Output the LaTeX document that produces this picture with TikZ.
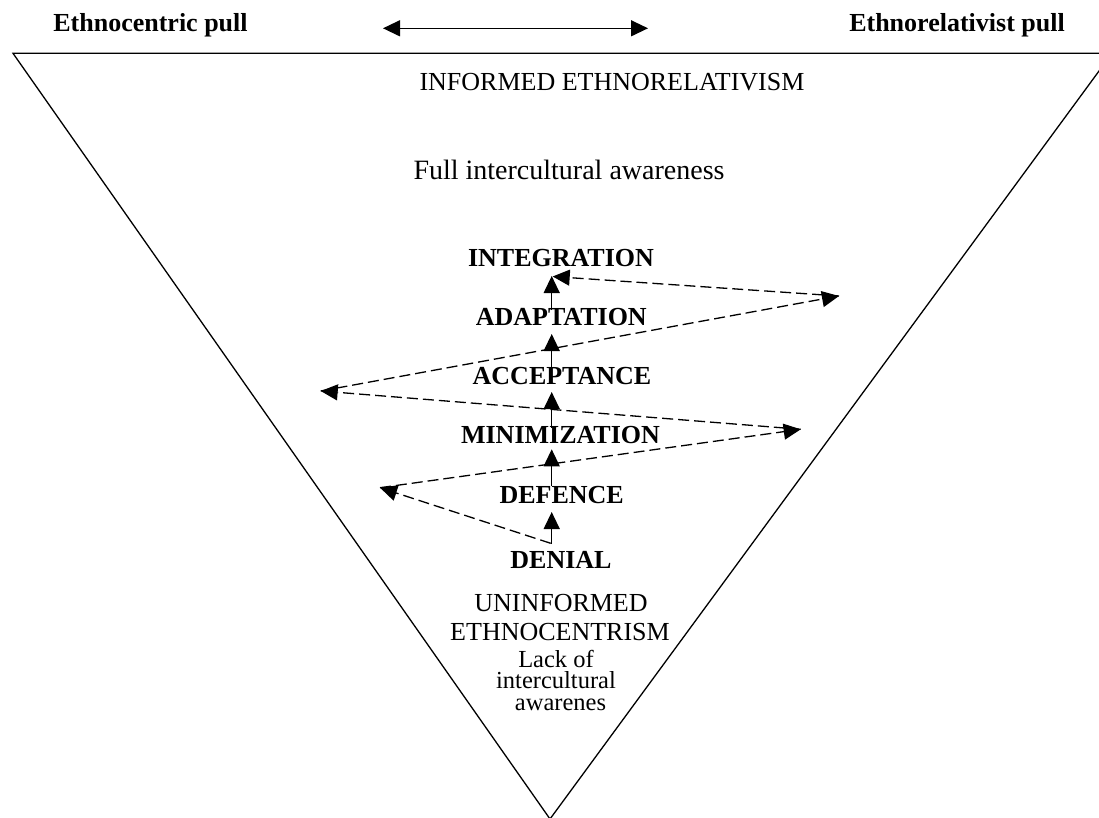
\documentclass[tikz,border=0pt]{standalone}
\usepackage{fontspec}
\setmainfont{Liberation Serif}
\usetikzlibrary{arrows.meta}

\tikzset{
  headtext/.style={font=\fontsize{26}{30}\selectfont\bfseries, anchor=base, inner sep=0pt},
  stagetext/.style={font=\fontsize{26}{30}\selectfont\bfseries, anchor=base, inner sep=0pt},
  plaintext/.style={font=\fontsize{26}{30}\selectfont, anchor=base, inner sep=0pt},
  fulltext/.style={font=\fontsize{28}{30}\selectfont, anchor=base, inner sep=0pt},
  notetext/.style={font=\fontsize{24.5}{21.5}\selectfont, anchor=base, inner sep=0pt,
                   align=center},
  tip/.tip={Triangle[length=17pt,width=16pt]},
  uparrow/.style={-tip, line width=1.3pt},
  swing/.style={-tip, line width=1.3pt, dash pattern=on 11pt off 5pt},
  frame/.style={line width=1.3pt, line join=miter}
}

\begin{document}
\begin{tikzpicture}[x=1pt, y=-1pt]
  \useasboundingbox (0,0) rectangle (1099,818);
  \clip (0,0) rectangle (1099,818);

  % the inverted triangle
  \draw[frame] (13,53.3) -- (1112,53.3) -- (550,819) -- cycle;

  % header
  \node[headtext] (centric) at (150.5,32) {Ethnocentric pull};
  \node[headtext] (relativ) at (957,32) {Ethnorelativist pull};
  \coordinate (pullL) at (383,28.3);
  \coordinate (pullR) at (648,28.3);
  \draw[tip-tip, line width=1.3pt] (pullL) -- (pullR);

  % upper texts
  \node[plaintext] (informed) at (612,90.7) {INFORMED ETHNORELATIVISM};
  \node[fulltext] (full) at (569,180) {Full intercultural awareness};

  % stages
  \node[stagetext] (integration) at (561,266.7) {INTEGRATION};
  \node[stagetext] (adaptation) at (561.3,325) {ADAPTATION};
  \node[stagetext] (acceptance) at (562,384) {ACCEPTANCE};
  \node[stagetext] (minimization) at (560.5,443) {MINIMIZATION};
  \node[stagetext] (defence) at (561.7,503.3) {DEFENCE};
  \node[stagetext] (denial) at (561,568.3) {DENIAL};

  % lower texts (the base of a multi-line node is its last line)
  \node[plaintext] (uninformed) at (561,611) {UNINFORMED};
  \node[plaintext] (ethnocentrism) at (560,640) {ETHNOCENTRISM};
  \node[notetext] (lack) at (556,710)
    {Lack of\\intercultural\\\hspace{9pt}awarenes};

  % points of the upward development
  \coordinate (s0) at (551.7,544);
  \coordinate (t1) at (551.7,512);
  \coordinate (s1) at (551.7,486);
  \coordinate (t2) at (551.7,449.3);
  \coordinate (s2) at (551.7,428);
  \coordinate (t3) at (551.7,392);
  \coordinate (s3) at (551.7,370);
  \coordinate (t4) at (551.7,334);
  \coordinate (s4) at (551.7,310);
  \coordinate (t5) at (551.7,276);

  \draw[uparrow] (s0) -- (t1);
  \draw[uparrow] (s1) -- (t2);
  \draw[uparrow] (s2) -- (t3);
  \draw[uparrow] (s3) -- (t4);
  \draw[uparrow] (s4) -- (t5);

  % swings between the two pulls
  \coordinate (d0) at (550.7,543.3);
  \coordinate (l1) at (380,487.7);
  \coordinate (r1) at (800.7,429.3);
  \coordinate (l2) at (320.7,391);
  \coordinate (r2) at (839,296);
  \coordinate (top) at (552.7,276.5);

  \draw[swing] (d0) -- (l1);
  \draw[swing] (l1) -- (r1);
  \draw[swing] (r1) -- (l2);
  \draw[swing] (l2) -- (r2);
  \draw[swing] (r2) -- (top);
\end{tikzpicture}
\end{document}
